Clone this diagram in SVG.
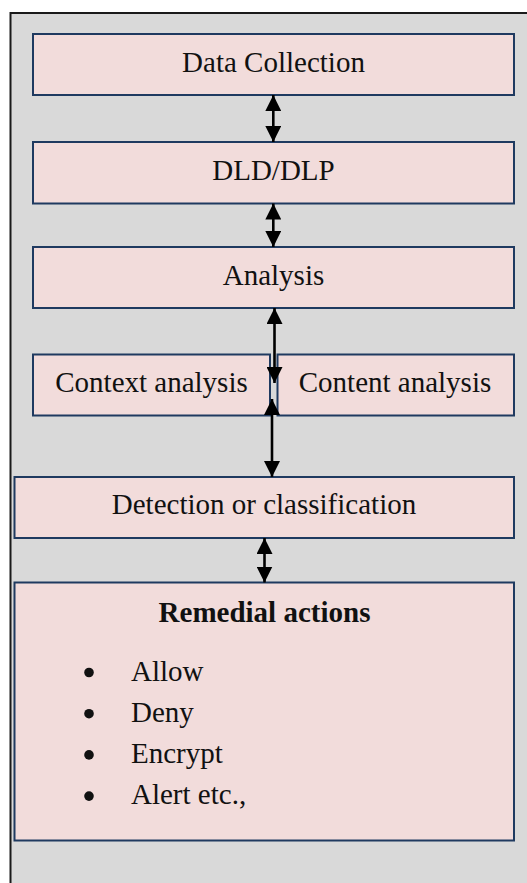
<svg xmlns="http://www.w3.org/2000/svg" width="527" height="883" viewBox="0 0 527 883">
  <style>
    .frame { fill: #d9d9d9; stroke: #1a1a1a; stroke-width: 2; }
    .box { fill: #f2dcdb; stroke: #1f3a60; stroke-width: 2; }
    .label { font-family: "Liberation Serif", "Times New Roman", serif; font-size: 29px; fill: #111; }
    .mid { text-anchor: middle; }
    .bold { font-weight: bold; }
    .link { stroke: #000; stroke-width: 2.6; fill: none; marker-start: url(#head); marker-end: url(#head); }
    .dot { fill: #111; }
  </style>
  <defs>
    <marker id="head" markerUnits="userSpaceOnUse" markerWidth="16" markerHeight="16" refX="16" refY="8" orient="auto-start-reverse">
      <path d="M0,0 L16,8 L0,16 z" fill="#000"/>
    </marker>
  </defs>

  <!-- page panel -->
  <rect class="frame" x="10.5" y="13" width="530" height="880"/>

  <g id="data-collection">
    <rect class="box" x="33" y="34" width="481" height="61"/>
    <text class="label mid" x="273.5" y="72">Data Collection</text>
  </g>

  <g id="dld-dlp">
    <rect class="box" x="33" y="142" width="481" height="61.5"/>
    <text class="label mid" x="273.5" y="180">DLD/DLP</text>
  </g>

  <g id="analysis">
    <rect class="box" x="33" y="247" width="481" height="61"/>
    <text class="label mid" x="273.5" y="284.5">Analysis</text>
  </g>

  <g id="context-analysis">
    <rect class="box" x="33" y="354.5" width="237" height="61"/>
    <text class="label mid" x="151.5" y="391.5">Context analysis</text>
  </g>

  <g id="content-analysis">
    <rect class="box" x="277.5" y="354.5" width="236.5" height="61"/>
    <text class="label mid" x="395" y="391.5">Content analysis</text>
  </g>

  <g id="detection">
    <rect class="box" x="14.5" y="477" width="499.5" height="61"/>
    <text class="label mid" x="264" y="514">Detection or classification</text>
  </g>

  <g id="remedial-actions">
    <rect class="box" x="14.5" y="582.5" width="499.5" height="258"/>
    <text class="label mid bold" x="264.5" y="622">Remedial actions</text>
    <circle class="dot" cx="89" cy="672.5" r="4.8"/>
    <text class="label" x="131" y="680.5">Allow</text>
    <circle class="dot" cx="89" cy="713.7" r="4.8"/>
    <text class="label" x="131" y="721.5">Deny</text>
    <circle class="dot" cx="89" cy="754.9" r="4.8"/>
    <text class="label" x="131" y="762.7">Encrypt</text>
    <circle class="dot" cx="89" cy="796.1" r="4.8"/>
    <text class="label" x="131" y="804">Alert etc.,</text>
  </g>

  <g id="connectors">
    <line class="link" x1="273.3" y1="95" x2="273.3" y2="142"/>
    <line class="link" x1="273.3" y1="203.5" x2="273.3" y2="247"/>
    <line class="link" x1="274.5" y1="308" x2="274.5" y2="383"/>
    <line class="link" x1="272" y1="399" x2="272" y2="477"/>
    <line class="link" x1="264.5" y1="538" x2="264.5" y2="582.5"/>
  </g>
</svg>
